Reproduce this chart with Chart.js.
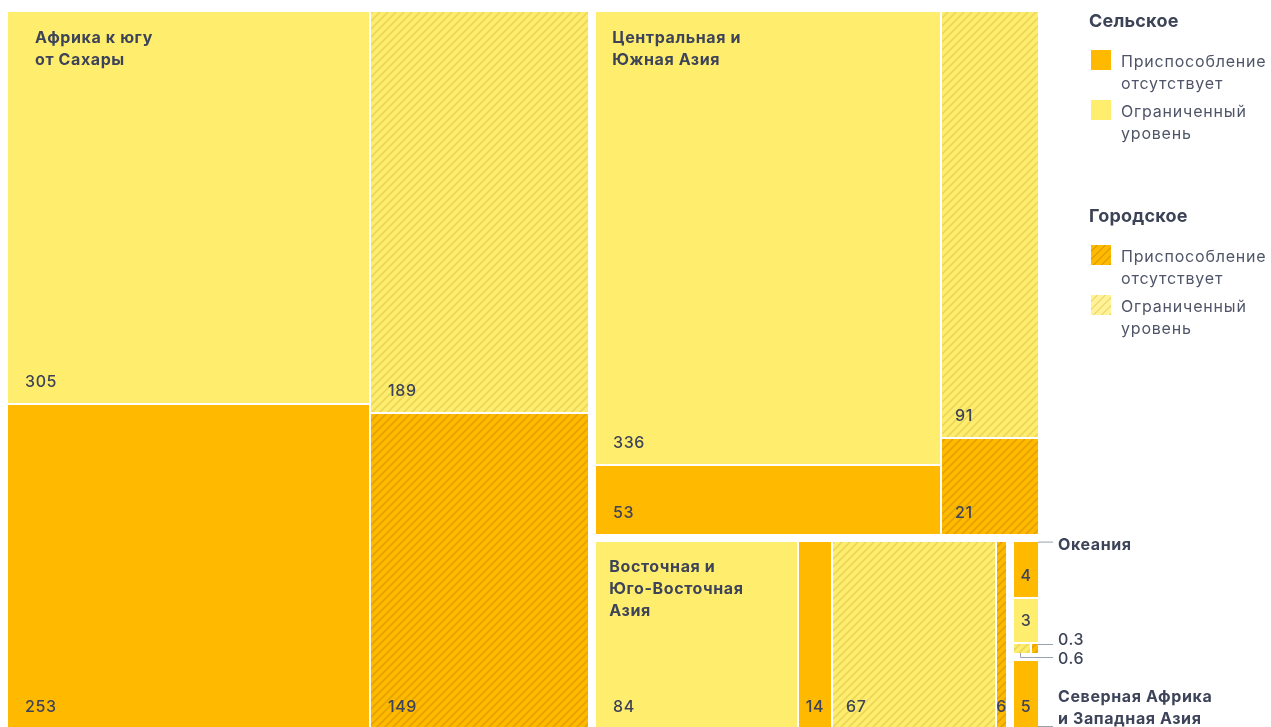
<!DOCTYPE html>
<html lang="ru">
<head>
<meta charset="utf-8">
<title>Приспособление: сельское и городское</title>
<script src="https://cdn.jsdelivr.net/npm/chart.js@4.4.1/dist/chart.umd.min.js"></script>
<style>
  html, body { margin: 0; padding: 0; background: #fff; overflow: hidden; }
  #wrap { position: relative; width: 1271px; height: 740px; }
  .legend { position: absolute; left: 1089px; font-family: Inter, "Noto Sans", sans-serif; color: #4f5568; }
  .legend h3 { margin: 0; font-size: 18px; line-height: 22px; font-weight: 700; color: #3d4357; letter-spacing: 0.2px; }
  .legend .item { position: relative; padding-left: 32px; font-size: 16px; line-height: 22px; height: 44px; letter-spacing: 0.8px; }
  .legend .sw { position: absolute; left: 2px; top: 0; width: 20px; height: 20px; }
</style>
</head>
<body>
<div id="wrap">
  <canvas id="treemap"></canvas>
  <div class="legend" id="legend-rural" style="top:10px"></div>
  <div class="legend" id="legend-urban" style="top:205px"></div>
</div>
<script>
// regions (title lines) and values per category
const regions = [
  ['Африка к югу', 'от Сахары'],
  ['Центральная и', 'Южная Азия'],
  ['Восточная и', 'Юго-Восточная', 'Азия'],
  ['Океания'],
  ['Северная Африка', 'и Западная Азия']
];
const ruralNone    = [253, 53, 14, 4, 5];
const ruralLimited = [305, 336, 84, 3, null];
const urbanNone    = [149, 21, 6, 0.3, null];
const urbanLimited = [189, 91, 67, 0.6, null];

const groupTitles = ['Сельское', 'Городское'];
const levelLabels = ['Приспособление отсутствует', 'Ограниченный уровень'];

const series = { ruralNone, ruralLimited, urbanNone, urbanLimited };

const ORANGE = '#ffba00';
const YELLOW = '#ffee6e';
const TEXT = '#3d4358';
const FONT = 'Inter, "Noto Sans", sans-serif';

// nesting / split direction of the treemap
const cell = (s, r) => ({ s, r });
const split = (dir, ...children) => ({ dir, children });
const region = (r, node) => ({ region: r, node });
const quad = r => split('h',
  split('v', cell('ruralLimited', r), cell('ruralNone', r)),
  split('v', cell('urbanLimited', r), cell('urbanNone', r)));

const tree = split('h',
  region(0, quad(0)),
  split('v',
    region(1, quad(1)),
    split('h',
      region(2, split('h', cell('ruralLimited', 2), cell('ruralNone', 2), cell('urbanLimited', 2), cell('urbanNone', 2))),
      split('v',
        region(3, split('v', cell('ruralNone', 3), cell('ruralLimited', 3),
          split('h', cell('urbanLimited', 3), cell('urbanNone', 3)))),
        region(4, cell('ruralNone', 4))))));

function value(n) {
  if (n.s) return series[n.s][n.r] || 0;
  if (n.node) return value(n.node);
  return n.children.reduce((a, c) => a + value(c), 0);
}

const leaves = [];
const regionRects = [];
function layout(n, rc, r) {
  if (n.node) { regionRects[n.region] = rc; layout(n.node, rc, n.region); return; }
  if (n.s) { if (value(n) > 0) leaves.push({ s: n.s, r, v: value(n), rc }); return; }
  const total = value(n);
  let pos = n.dir === 'h' ? rc.x0 : rc.y0;
  n.children.forEach(c => {
    const span = (n.dir === 'h' ? rc.x1 - rc.x0 : rc.y1 - rc.y0) * value(c) / total;
    const sub = n.dir === 'h'
      ? { x0: pos, x1: pos + span, y0: rc.y0, y1: rc.y1 }
      : { x0: rc.x0, x1: rc.x1, y0: pos, y1: pos + span };
    pos += span;
    layout(c, sub, r);
  });
}
layout(tree, { x0: 0, x1: 1, y0: 0, y1: 1 }, null);

function hatch(ctx, base, line) {
  const n = 8;
  const c = document.createElement('canvas');
  c.width = c.height = n;
  const g = c.getContext('2d');
  g.fillStyle = base;
  g.fillRect(0, 0, n, n);
  g.strokeStyle = line;
  g.lineWidth = 1.7;
  g.beginPath();
  g.moveTo(-1, n + 1); g.lineTo(n + 1, -1);
  g.moveTo(-1, 1); g.lineTo(1, -1);
  g.moveTo(n - 1, n + 1); g.lineTo(n + 1, n - 1);
  g.stroke();
  return ctx.createPattern(c, 'repeat');
}

// title padding per block, as in the source picture
const titlePad = [27, 16, 13];

const treemapPlugin = {
  id: 'treemap',
  afterDraw(chart) {
    const { ctx, scales: { x, y } } = chart;
    const fills = {
      ruralNone: ORANGE,
      ruralLimited: YELLOW,
      urbanNone: hatch(ctx, ORANGE, 'rgba(200,140,0,0.5)'),
      urbanLimited: hatch(ctx, YELLOW, 'rgba(215,190,70,0.5)')
    };
    const toPx = rc => ({
      l: x.getPixelForValue(rc.x0), r: x.getPixelForValue(rc.x1),
      t: y.getPixelForValue(rc.y0), b: y.getPixelForValue(rc.y1)
    });
    const regPx = regionRects.map(toPx);
    const cellPx = [];

    ctx.save();
    leaves.forEach(lf => {
      const p = toPx(lf.rc), R = regPx[lf.r];
      const l = Math.round(Math.max(p.l + 1, R.l + 4));
      const r = Math.round(Math.min(p.r - 1, R.r - 4));
      const t = Math.round(Math.max(p.t + 1, R.t + 4));
      const b = Math.round(Math.min(p.b - 1, R.b - 4));
      cellPx.push({ lf, l, r, t, b });
      ctx.fillStyle = fills[lf.s];
      ctx.fillRect(l, t, r - l, b - t);
    });

    // value labels
    ctx.fillStyle = TEXT;
    ctx.textBaseline = 'middle';
    ctx.letterSpacing = '0.6px';
    ctx.font = '500 16px ' + FONT;
    cellPx.forEach(c => {
      const w = c.r - c.l, h = c.b - c.t;
      if (w < 8 || h < 20) return;
      const txt = String(c.lf.v);
      if (w < 40) {
        ctx.textAlign = 'center';
        ctx.fillText(txt, (c.l + c.r) / 2, c.b - 21);
      } else {
        ctx.textAlign = 'left';
        ctx.fillText(txt, c.l + (w < 200 ? 13 : 17), c.b - 21);
      }
    });

    // region titles inside the big blocks
    ctx.font = 'bold 16px ' + FONT;
    ctx.textAlign = 'left';
    [0, 1, 2].forEach(i => {
      const R = regPx[i];
      regions[i].forEach((line, k) => ctx.fillText(line, R.l + 4 + titlePad[i], R.t + 4 + 26 + k * 22));
    });

    // callouts on the right of the small blocks
    ctx.strokeStyle = '#9ba1ad';
    ctx.lineWidth = 1;
    const lineTo = (pts) => {
      ctx.beginPath();
      pts.forEach(([px, py], k) => k ? ctx.lineTo(px, py) : ctx.moveTo(px, py));
      ctx.stroke();
    };
    const oc = regPx[3], na = regPx[4];
    const edge = oc.r - 4, tip = edge + 15, tx = edge + 20;
    lineTo([[edge, oc.t + 4.5], [tip, oc.t + 4.5]]);
    ctx.fillText(regions[3][0], tx, oc.t + 8);

    ctx.font = '500 16px ' + FONT;
    const uN = cellPx.find(c => c.lf.r === 3 && c.lf.s === 'urbanNone');
    const uL = cellPx.find(c => c.lf.r === 3 && c.lf.s === 'urbanLimited');
    lineTo([[edge, uN.t + 0.5], [tip, uN.t + 0.5]]);
    ctx.fillText(String(urbanNone[3]), tx, uN.t - 4);
    const mx = Math.round((uL.l + uL.r) / 2) - 1.5;
    lineTo([[mx, uL.b], [mx, uL.b + 4.5], [tip, uL.b + 4.5]]);
    ctx.fillText(String(urbanLimited[3]), tx, uL.b + 6);

    ctx.font = 'bold 16px ' + FONT;
    lineTo([[edge, na.b - 5.5], [tip, na.b - 5.5]]);
    regions[4].forEach((line, k) => ctx.fillText(line, tx, na.t + 41 + k * 22));
    ctx.restore();
  }
};

new Chart(document.getElementById('treemap'), {
  type: 'scatter',
  data: { datasets: [] },
  options: {
    responsive: true,
    maintainAspectRatio: false,
    animation: false,
    layout: { padding: { left: 4, top: 8, right: 229, bottom: 8 } },
    scales: {
      x: { type: 'linear', min: 0, max: 1, display: false },
      y: { type: 'linear', min: 0, max: 1, reverse: true, display: false }
    },
    plugins: { legend: { display: false }, tooltip: { enabled: false } }
  },
  plugins: [treemapPlugin]
});

// legend
const swatches = [
  [ORANGE, YELLOW],
  [
    `repeating-linear-gradient(135deg, ${ORANGE} 0 3.8px, #e0a200 3.8px 5.6px)`,
    `repeating-linear-gradient(135deg, #fff29a 0 3.8px, #f3dd6a 3.8px 5.6px)`
  ]
];
['legend-rural', 'legend-urban'].forEach((id, g) => {
  const el = document.getElementById(id);
  let html = `<h3>${groupTitles[g]}</h3><div style="height:18px"></div>`;
  levelLabels.forEach((lbl, k) => {
    const [a, b] = lbl.split(' ');
    html += `<div class="item" style="margin-bottom:6px"><span class="sw" style="background:${swatches[g][k]}"></span>${a}<br>${b}</div>`;
  });
  el.innerHTML = html;
});
</script>
</body>
</html>
